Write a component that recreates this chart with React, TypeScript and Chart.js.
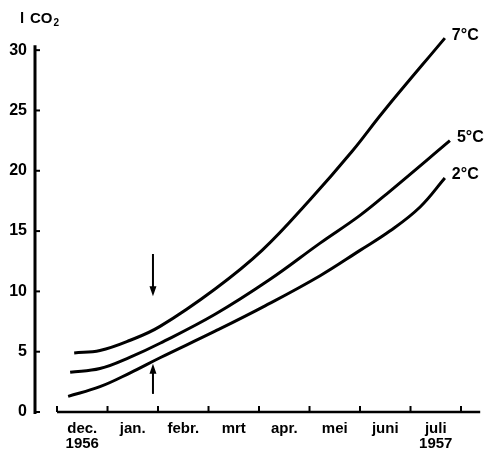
import React, { useEffect, useRef } from "react";
import { Chart, registerables } from "chart.js";

Chart.register(...registerables);

// Months since 1 Dec 1956 (x) and litres CO2 (y)
const monthLabels: (string | string[])[] = [
  ["dec.", "1956"], "jan.", "febr.", "mrt", "apr.", "mei", "juni", ["juli", "1957"],
];
const yTicks = [0, 5, 10, 15, 20, 25, 30];
const monthTicks = [0, 1, 2, 3, 4, 5, 6, 7, 8];

const x7 = [0.34, 0.85, 1.45, 2.04, 3.13, 4.06, 5.01, 5.84, 6.46, 7.68];
const y7 = [4.9, 5.1, 5.95, 7.1, 10.2, 13.4, 17.6, 21.6, 24.9, 31.0];

const x5 = [0.26, 0.85, 1.45, 2.04, 3.13, 4.22, 5.21, 6.0, 6.59, 7.78];
const y5 = [3.3, 3.6, 4.55, 5.7, 8.1, 11.0, 14.0, 16.3, 18.3, 22.5];

const x2 = [0.22, 0.85, 1.45, 2.04, 3.13, 4.12, 5.21, 6.0, 6.59, 7.19, 7.68];
const y2 = [1.3, 2.1, 3.25, 4.5, 6.7, 8.8, 11.3, 13.4, 15.0, 17.0, 19.4];

const seriesNames = ["7°C", "5°C", "2°C"];

// arrows: [x, yFrom, yTo]
const arrowDown = [1.9, 13.1, 9.6];
const arrowUp = [1.9, 1.5, 4.0];

const FONT = "'Liberation Sans', Arial, sans-serif";

export default function App() {
  const ref = useRef<HTMLCanvasElement>(null);
  useEffect(() => {
    document.body.style.margin = "0";
    const toPts = (xs: number[], ys: number[]) => xs.map((x, i) => ({ x, y: ys[i] }));
    const ds = (name: string, xs: number[], ys: number[]) => ({
      label: name,
      data: toPts(xs, ys),
      borderColor: "#000",
      borderWidth: 3,
      pointRadius: 0,
      fill: false,
      tension: 0.4,
    });

    const deco = {
      id: "deco",
      afterDatasetsDraw(chart: any) {
        const ctx = chart.ctx as CanvasRenderingContext2D;
        const xs = chart.scales.x;
        const ys = chart.scales.y;
        ctx.save();
        ctx.strokeStyle = "#000";
        ctx.fillStyle = "#000";
        ctx.lineCap = "butt";
        // y axis
        const yax = xs.left;
        ctx.lineWidth = 3;
        ctx.beginPath();
        ctx.moveTo(yax, ys.getPixelForValue(0) + 2);
        ctx.lineTo(yax, ys.getPixelForValue(30.4));
        ctx.stroke();
        ctx.lineWidth = 2;
        yTicks.forEach((v) => {
          const py = ys.getPixelForValue(v);
          ctx.beginPath();
          ctx.moveTo(yax, py);
          ctx.lineTo(yax + 5, py);
          ctx.stroke();
        });
        // x axis
        const py0 = ys.getPixelForValue(0);
        ctx.lineWidth = 2.5;
        ctx.beginPath();
        ctx.moveTo(xs.getPixelForValue(0), py0);
        ctx.lineTo(xs.getPixelForValue(8.38), py0);
        ctx.stroke();
        ctx.lineWidth = 2;
        monthTicks.forEach((m) => {
          const px = xs.getPixelForValue(m);
          ctx.beginPath();
          ctx.moveTo(px, py0);
          ctx.lineTo(px, py0 - 6);
          ctx.stroke();
        });
        // arrows
        const arrow = (a: number[]) => {
          const px = xs.getPixelForValue(a[0]);
          const p1 = ys.getPixelForValue(a[1]);
          const p2 = ys.getPixelForValue(a[2]);
          const dir = p2 > p1 ? 1 : -1;
          ctx.lineWidth = 2;
          ctx.beginPath();
          ctx.moveTo(px, p1);
          ctx.lineTo(px, p2 - dir * 8);
          ctx.stroke();
          ctx.beginPath();
          ctx.moveTo(px, p2);
          ctx.lineTo(px - 3.5, p2 - dir * 10);
          ctx.lineTo(px + 3.5, p2 - dir * 10);
          ctx.closePath();
          ctx.fill();
        };
        arrow(arrowDown);
        arrow(arrowUp);
        // series labels
        ctx.font = `bold 16px ${FONT}`;
        ctx.textAlign = "left";
        ctx.textBaseline = "middle";
        chart.data.datasets.forEach((d: any, i: number) => {
          const last = d.data[d.data.length - 1];
          const px = xs.getPixelForValue(last.x);
          const py = ys.getPixelForValue(last.y);
          ctx.fillText(seriesNames[i], px + 7, py - 3);
        });
        // axis title
        ctx.font = `bold 15px ${FONT}`;
        ctx.textBaseline = "alphabetic";
        ctx.fillText("l", 20, 23);
        ctx.fillText("CO", 30, 23);
        const w = ctx.measureText("CO").width;
        ctx.font = `bold 10px ${FONT}`;
        ctx.fillText("2", 30 + w + 1, 26);
        ctx.restore();
      },
    };

    const chart = new Chart(ref.current!, {
      type: "line",
      data: { datasets: [ds("7°C", x7, y7), ds("5°C", x5, y5), ds("2°C", x2, y2)] },
      options: {
        animation: false,
        responsive: false,
        layout: { padding: { top: 0, right: 9, bottom: 0, left: 0 } },
        plugins: { legend: { display: false }, tooltip: { enabled: false } },
        scales: {
          x: {
            type: "linear",
            min: -0.436,
            max: 8.376,
            border: { display: false },
            grid: { display: false, drawTicks: false },
            afterBuildTicks: (s: any) => {
              s.ticks = monthLabels.map((_, i) => ({ value: i + 0.5 }));
            },
            afterFit: (s: any) => {
              s.height = 40;
            },
            ticks: {
              autoSkip: false,
              maxRotation: 0,
              padding: 9,
              color: "#000",
              font: { family: FONT, size: 15, weight: "bold", lineHeight: 1.0 },
              callback: (v: any) => monthLabels[Math.floor(Number(v))] as any,
            },
          },
          y: {
            type: "linear",
            min: 0,
            max: 32.7,
            border: { display: false },
            grid: { display: false, drawTicks: false },
            afterBuildTicks: (s: any) => {
              s.ticks = yTicks.map((v) => ({ value: v }));
            },
            afterFit: (s: any) => {
              s.width = 35;
            },
            ticks: {
              padding: 8,
              color: "#000",
              font: { family: FONT, size: 16, weight: "bold" },
            },
          },
        },
      },
      plugins: [deco],
    });
    return () => chart.destroy();
  }, []);
  return (
    <div style={{ width: 489, height: 452, background: "#fff" }}>
      <canvas ref={ref} width={489} height={452} />
    </div>
  );
}
